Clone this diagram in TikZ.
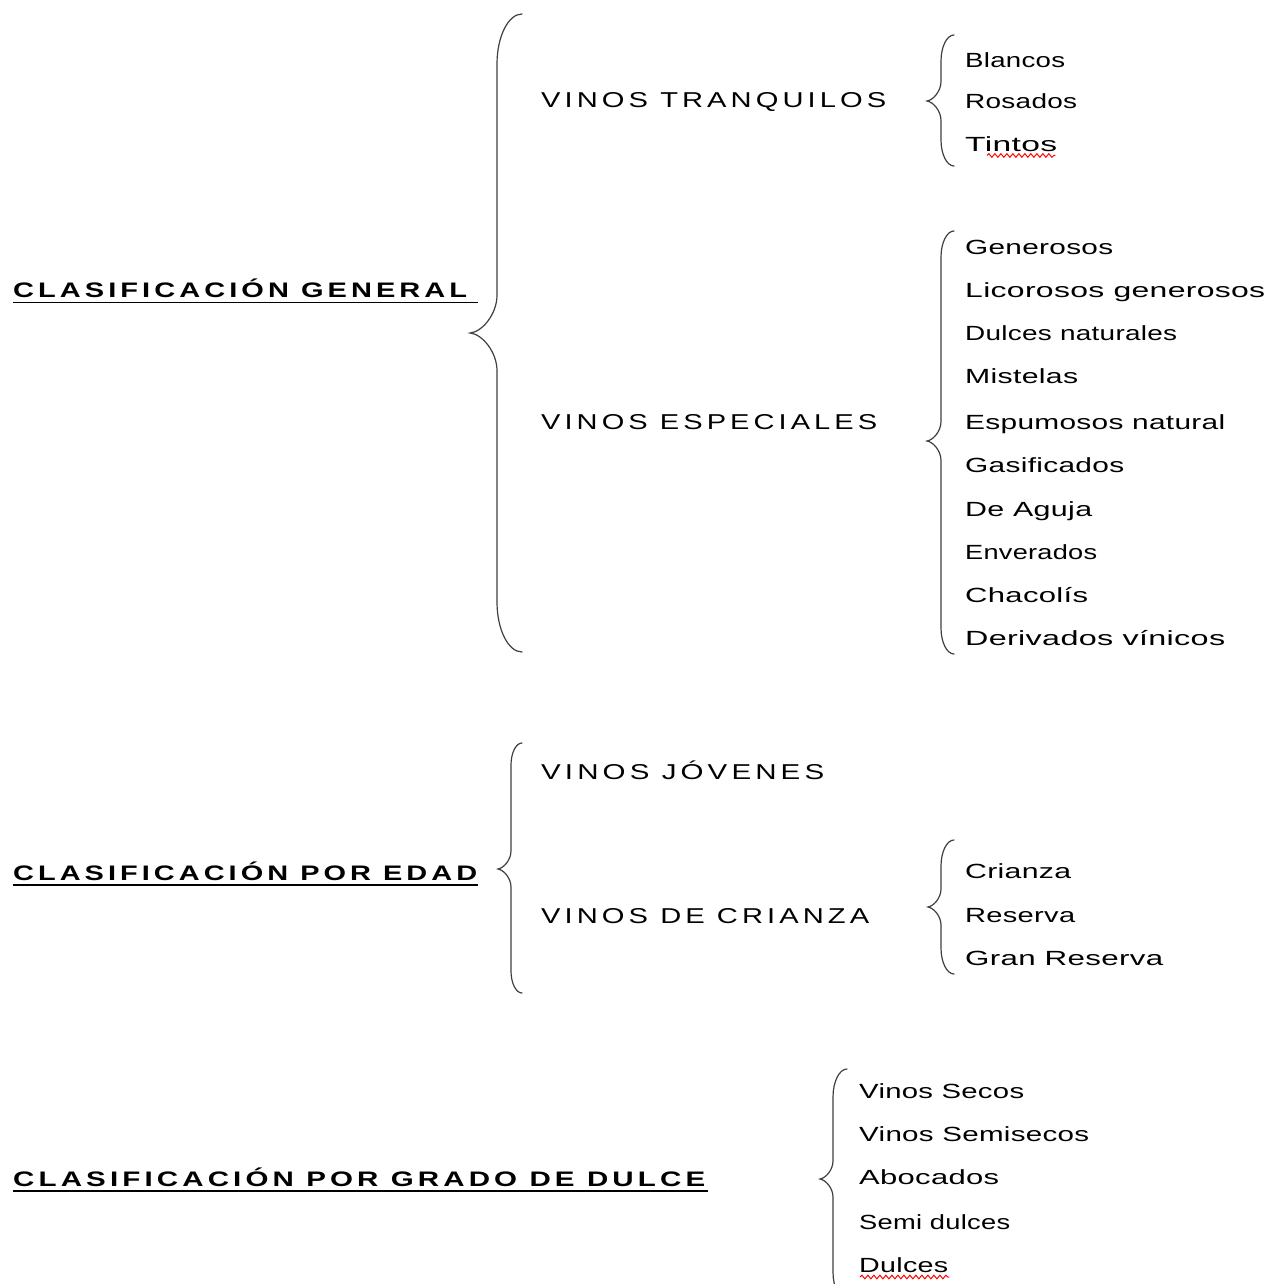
\documentclass[tikz,border=0pt]{standalone}
\usepackage{fontspec}
\usepackage{graphicx}
\setmainfont{Liberation Sans}
\newfontfamily\itemfont[LetterSpace=1]{Liberation Sans}
\newfontfamily\capfont[LetterSpace=14]{Liberation Sans}
\newfontfamily\headfont[LetterSpace=14]{Liberation Sans}
\usetikzlibrary{decorations.pathmorphing}
\newcommand\fw[2]{\resizebox{#1pt}{\height}{#2}}
\newcommand\brc[6]{%
 \draw[bracestyle] (#1,#4) .. controls ({#2+0.45*(#1-#2)},#4) and (#2,{#4+0.9*(#1-#2)}) .. (#2,{#4+2*(#1-#2)})
  -- (#2,{#5-1.4*(#2-#3)}) .. controls (#2,{#5-0.7*(#2-#3)}) and ({#3+0.45*(#2-#3)},{#5-1}) .. (#3,#5)
  .. controls ({#3+0.45*(#2-#3)},{#5+1}) and (#2,{#5+0.7*(#2-#3)}) .. (#2,{#5+1.4*(#2-#3)})
  -- (#2,{#6-2*(#1-#2)}) .. controls (#2,{#6-0.9*(#1-#2)}) and ({#2+0.45*(#1-#2)},#6) .. (#1,#6);}
\begin{document}
\begin{tikzpicture}[x=1pt,y=-1pt,
  bracestyle/.style={draw=black!75, line width=1.2pt, line cap=round},
  lbl/.style={inner sep=0pt, anchor=base west, text=black},
  itm/.style={lbl, font=\itemfont\fontsize{20.5}{22}\selectfont},
  cat/.style={lbl, font=\capfont\fontsize{21.5}{23}\selectfont},
  head/.style={lbl, font=\headfont\bfseries\fontsize{21}{23}\selectfont},
  uline/.style={draw=black, line width=1.8pt},
  wavy/.style={draw=red, line width=1pt, decorate, decoration={snake, amplitude=1.8pt, segment length=6pt}}]
\useasboundingbox (0,0) rectangle (1277,1284);
\clip (0,0) rectangle (1277,1284);
\fill[white] (0,0) rectangle (1277,1284);

% headings
\node[head] (h1) at (13,297.5) {\fw{454}{CLASIFICACIÓN GENERAL}};
\node[head] (h2) at (13,880) {\fw{464}{CLASIFICACIÓN POR EDAD}};
\node[head] (h3) at (13,1186) {\fw{692}{CLASIFICACIÓN POR GRADO DE DULCE}};
\draw[uline] ([yshift=-5pt]h1.base west) -- ++(465,0);
\draw[uline] ([yshift=-5pt]h2.base west) -- ++(465,0);
\draw[uline] ([yshift=-5pt]h3.base west) -- ++(695,0);

% categories
\node[cat] (tranq) at (541,108) {\fw{345}{VINOS TRANQUILOS}};
\node[cat] (espec) at (541,429.5) {\fw{336}{VINOS ESPECIALES}};
\node[cat] (joven) at (541,779.5) {\fw{283}{VINOS JÓVENES}};
\node[cat] (crian) at (541,923.5) {\fw{328}{VINOS  DE  CRIANZA}};

% tranquilos items
\node[itm] (blancos) at (965,68) {\fw{100}{Blancos}};
\node[itm] (rosados) at (965,108.5) {\fw{112}{Rosados}};
\node[itm] (tintos) at (965,151.5) {\fw{92}{Tintos}};

% especiales items
\node[itm] (gen) at (965,254.5) {\fw{148}{Generosos}};
\node[itm] (lic) at (965,297.5) {\fw{300}{Licorosos generosos}};
\node[itm] (dul) at (965,340.5) {\fw{212}{Dulces naturales}};
\node[itm] (mis) at (965,383.5) {\fw{113}{Mistelas}};
\node[itm] (esp) at (965,429) {\fw{260}{Espumosos  natural}};
\node[itm] (gas) at (965,472.5) {\fw{159}{Gasificados}};
\node[itm] (agu) at (965,516.5) {\fw{127}{De  Aguja}};
\node[itm] (env) at (965,559.5) {\fw{132}{Enverados}};
\node[itm] (cha) at (965,602.5) {\fw{123}{Chacolís}};
\node[itm] (der) at (965,645.5) {\fw{260}{Derivados  vínicos}};

% crianza items
\node[itm] (cri) at (965,878.5) {\fw{106}{Crianza}};
\node[itm] (res) at (965,922.5) {\fw{110}{Reserva}};
\node[itm] (gran) at (965,965.5) {\fw{198}{Gran  Reserva}};

% dulce items
\node[itm] (sec) at (859,1098.5) {\fw{165}{Vinos  Secos}};
\node[itm] (semi) at (859,1141.5) {\fw{230}{Vinos  Semisecos}};
\node[itm] (abo) at (859,1184.5) {\fw{140}{Abocados}};
\node[itm] (sdul) at (859,1229.5) {\fw{151}{Semi dulces}};
\node[itm] (dulces) at (859,1272.5) {\fw{89}{Dulces}};

% spelling marks
\draw[wavy] ([xshift=22pt,yshift=-4pt]tintos.base west) -- ([xshift=-2pt,yshift=-4pt]tintos.base east);
\draw[wavy] ([xshift=1pt,yshift=-4.5pt]dulces.base west) -- ([xshift=1pt,yshift=-4.5pt]dulces.base east);

% braces
\brc{522}{497}{470}{14}{333}{652}
\brc{954}{941}{927}{35}{101}{166}
\brc{954}{941}{927}{231}{441}{654}
\brc{522}{511}{498}{743}{869}{993}
\brc{954}{941}{928}{840}{907}{974}
\brc{847}{833}{820}{1069}{1179}{1300}
\end{tikzpicture}
\end{document}
